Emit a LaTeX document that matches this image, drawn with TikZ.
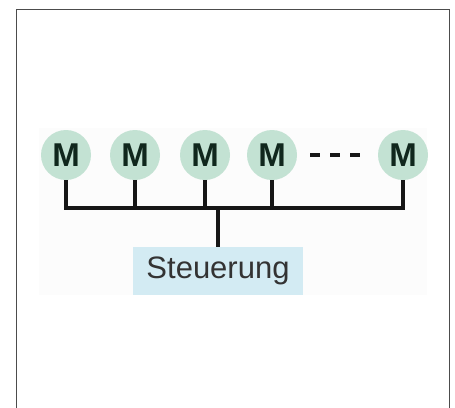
\documentclass[tikz,border=0pt]{standalone}
\usepackage{fontspec}
\setmainfont{Liberation Sans}
\definecolor{motorgreen}{HTML}{C3E2D3}
\definecolor{ctrlblue}{HTML}{D3EBF3}
\definecolor{mtext}{HTML}{10271D}
\definecolor{wire}{HTML}{161616}
\tikzset{
  motor/.style={circle,fill=motorgreen,minimum size=50pt,inner sep=0pt,
    text=mtext,font=\fontsize{33}{36}\selectfont\bfseries},
  ctrlbox/.style={fill=ctrlblue,minimum width=170pt,minimum height=48pt,
    inner sep=0pt,text=black!80,font=\fontsize{31}{36}\selectfont},
  wire/.style={line width=3.6pt,draw=wire}
}
\begin{document}
\begin{tikzpicture}[x=1pt,y=-1pt]
      \useasboundingbox (0,0) rectangle (455,407);
      \draw[black!70,line width=0.9pt] (16,412) -- (16,9) -- (449,9) -- (449,412);
      \fill[black!1] (39,128) rectangle (427,295);

      %%%%%%%%%%%%%%%%%%%%%%%%%%%%%%%%%%%%%%%%%%%%%%%%%%%%%%%%%%%%%%%%%%%%%%%%%%%
      %%%%  Motors
      \foreach \x [count=\i] in {66,135,205,272,403}
       {\node[motor] (m\i) at (\x,155) {M};};

      \node[ctrlbox] (ctrl) at (218,271) {Steuerung};
      \coordinate (busy) at (0,208);

      %%%%%%%%%%%%%%%%%%%%%%%%%%%%%%%%%%%%%%%%%%%%%%%%%%%%%%%%%%%%%%%%%%%%%%%%%%%
      %%%%  Bus
      \draw[wire] (m1.south) -- (m1.south |- busy) -- (m5.south |- busy) -- (m5.south);
      \foreach \i in {2,3,4}
       {\draw[wire] (m\i.south) -- (m\i.south |- busy);};
      \draw[wire] (ctrl.north) -- (ctrl.north |- busy);

      \draw[wire,dash pattern=on 10pt off 10pt,shorten <=13pt,shorten >=18pt]
        (m4.east) -- (m5.west);
    \end{tikzpicture}
\end{document}
